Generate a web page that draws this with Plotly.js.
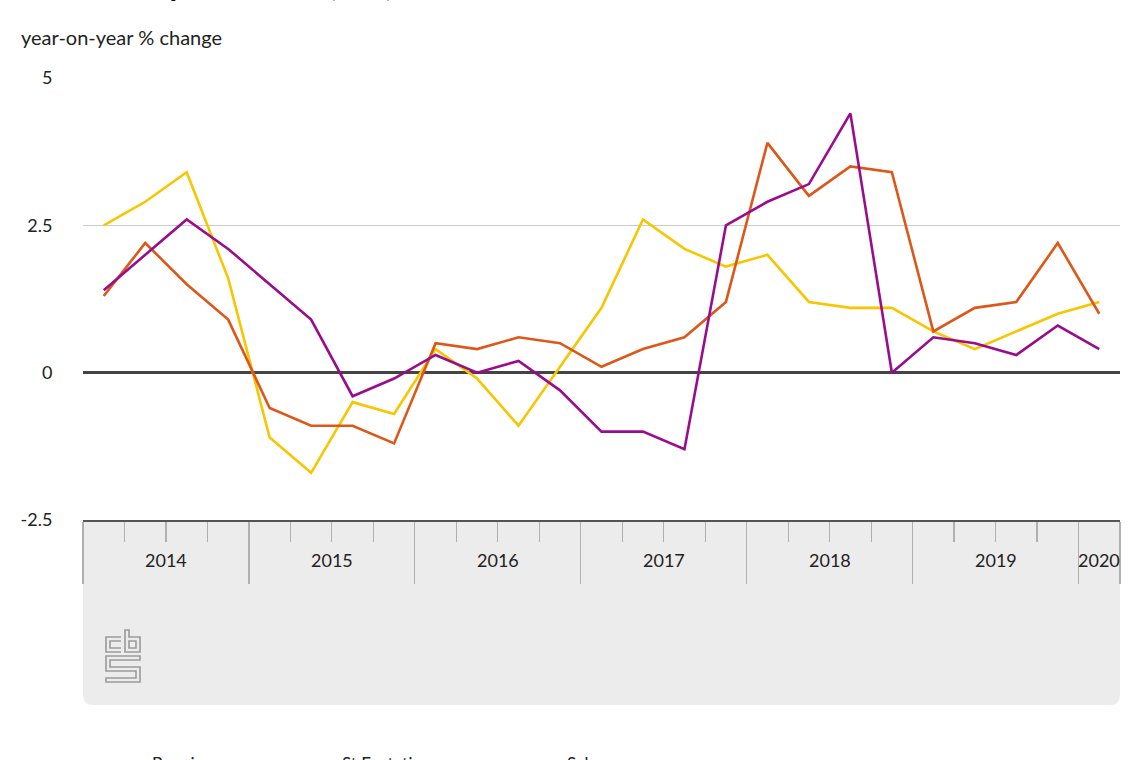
<!DOCTYPE html>
<html>
<head>
<meta charset="utf-8">
<script src="https://cdn.plot.ly/plotly-3.0.1.min.js"></script>
<style>html,body{margin:0;padding:0;background:#fff;}#chart{width:1140px;height:760px;}</style>
</head>
<body>
<div id="chart"></div>
<script>
// ---- data ----
const quarters = [
  '2014 Q1','2014 Q2','2014 Q3','2014 Q4',
  '2015 Q1','2015 Q2','2015 Q3','2015 Q4',
  '2016 Q1','2016 Q2','2016 Q3','2016 Q4',
  '2017 Q1','2017 Q2','2017 Q3','2017 Q4',
  '2018 Q1','2018 Q2','2018 Q3','2018 Q4',
  '2019 Q1','2019 Q2','2019 Q3','2019 Q4',
  '2020 Q1'
];
const bonaire = [2.5, 2.9, 3.4, 1.6, -1.1, -1.7, -0.5, -0.7, 0.4, -0.1, -0.9, 0.1, 1.1, 2.6, 2.1, 1.8, 2.0, 1.2, 1.1, 1.1, 0.7, 0.4, 0.7, 1.0, 1.2];
const stEustatius = [1.3, 2.2, 1.5, 0.9, -0.6, -0.9, -0.9, -1.2, 0.5, 0.4, 0.6, 0.5, 0.1, 0.4, 0.6, 1.2, 3.9, 3.0, 3.5, 3.4, 0.7, 1.1, 1.2, 2.2, 1.0];
const saba = [1.4, 2.0, 2.6, 2.1, 1.5, 0.9, -0.4, -0.1, 0.3, 0.0, 0.2, -0.3, -1.0, -1.0, -1.3, 2.5, 2.9, 3.2, 4.4, 0.0, 0.6, 0.5, 0.3, 0.8, 0.4];
const seriesNames = ['Bonaire', 'St Eustatius', 'Saba'];
const yTickValues = [-2.5, 0, 2.5, 5];
const yTickLabels = ['-2.5', '0', '2.5', '5'];
const titleText = 'Consumer price index (CPI) Caribbean Netherlands';
const yAxisLabel = 'year-on-year % change';

// ---- geometry (pixels) ----
const W = 1140, H = 760;
const M = {l: 83, r: 20, t: 78, b: 240};
const plotW = W - M.l - M.r, plotH = H - M.t - M.b;
const px2paperX = px => (px - M.l) / plotW;
const px2paperY = py => (H - M.b - py) / plotH;

const xIdx = quarters.map((q, i) => i);
const years = [...new Set(quarters.map(q => q.split(' ')[0]))];
const yearCenters = years.map(y => {
  const idx = xIdx.filter(i => quarters[i].startsWith(y));
  return (idx[0] + idx[idx.length - 1]) / 2;
});
const yearBounds = years.map(y => xIdx.find(i => quarters[i].startsWith(y)) - 0.5).concat([quarters.length - 0.5]);
const quarterBounds = xIdx.map(i => i - 0.5);

const colors = ['#f7c600', '#dd5718', '#990c8b'];
const seriesData = [bonaire, stEustatius, saba];
const legendIds = ['legend', 'legend2', 'legend3'];
const font = 'Lato, "Open Sans", sans-serif';

const traces = seriesData.map((d, k) => ({
  type: 'scatter', mode: 'lines', x: xIdx, y: d, name: seriesNames[k],
  text: quarters, hovertemplate: '%{text}: %{y}<extra>' + seriesNames[k] + '</extra>',
  line: {color: colors[k], width: 2.6},
  legend: legendIds[k]
}));

const boxBottom = px2paperY(705);
const rX = 10 / plotW, rY = 10 / plotH;
const boxPath = `M0,0 L1,0 L1,${boxBottom + rY} Q1,${boxBottom} ${1 - rX},${boxBottom} L${rX},${boxBottom} Q0,${boxBottom} 0,${boxBottom + rY} Z`;

const logoSvg = `<svg xmlns="http://www.w3.org/2000/svg" width="36" height="54" viewBox="0 0 36 54">
<g fill="none" stroke="#9a9a9a" stroke-width="1.6">
<path d="M16,8 H1 V23 H16 M16,12 H5 V19 H16"/>
<path d="M20,1 V23 H35 V8 H24 V1 Z M24,12 H31 V19 H24 Z"/>
<path d="M35,27 H1 V42 H31 V49 H1 V53 H35 V38 H5 V31 H35 Z"/>
</g></svg>`;
const logoUri = 'data:image/svg+xml;base64,' + btoa(logoSvg);

const annotations = years.map((y, i) => ({
  text: y, x: yearCenters[i], xref: 'x', y: px2paperY(560), yref: 'paper',
  xanchor: 'center', yanchor: 'middle', showarrow: false,
  font: {family: font, size: 18, color: '#222'}
}));
annotations.push({
  text: yAxisLabel, x: px2paperX(19), xref: 'paper', y: px2paperY(37), yref: 'paper',
  xanchor: 'left', yanchor: 'middle', showarrow: false,
  font: {family: font, size: 20, color: '#222'}
});
annotations.push({
  text: '<b>' + titleText + '</b>', x: px2paperX(20), xref: 'paper', y: px2paperY(-16), yref: 'paper',
  xanchor: 'left', yanchor: 'middle', showarrow: false,
  font: {family: font, size: 31, color: '#111'}
});

const legendBase = {
  orientation: 'h', yref: 'paper', y: px2paperY(764), yanchor: 'middle', xanchor: 'left',
  bgcolor: 'rgba(0,0,0,0)', itemwidth: 60, font: {family: font, size: 17, color: '#222'}
};
const legendStarts = [82, 272, 497];

const layout = {
  width: W, height: H,
  margin: {l: M.l, r: M.r, t: M.t, b: M.b, autoexpand: false},
  paper_bgcolor: '#fff', plot_bgcolor: '#fff',
  font: {family: font, size: 18, color: '#222'},
  showlegend: true,
  legend: Object.assign({}, legendBase, {x: px2paperX(legendStarts[0])}),
  legend2: Object.assign({}, legendBase, {x: px2paperX(legendStarts[1])}),
  legend3: Object.assign({}, legendBase, {x: px2paperX(legendStarts[2])}),
  xaxis: {
    range: [-0.5, quarters.length - 0.5], showgrid: false, zeroline: false,
    showline: true, linecolor: '#555', linewidth: 1.5,
    tickmode: 'array', tickvals: yearBounds, ticks: 'outside', ticklen: 62, tickwidth: 1.2, tickcolor: '#b0b0b0',
    showticklabels: false,
    minor: {tickmode: 'array', tickvals: quarterBounds, ticks: 'outside', ticklen: 20, tickwidth: 1.2, tickcolor: '#b0b0b0', showgrid: false},
    fixedrange: true
  },
  yaxis: {
    range: [-2.5, 5], tickmode: 'array', tickvals: yTickValues, ticktext: yTickLabels,
    showgrid: true, gridcolor: '#cccccc', gridwidth: 1,
    zeroline: true, zerolinecolor: '#444', zerolinewidth: 3,
    showline: false, ticks: 'outside', ticklen: 26, tickcolor: 'rgba(0,0,0,0)',
    tickfont: {family: font, size: 18, color: '#222'}, fixedrange: true
  },
  shapes: [{type: 'path', xref: 'paper', yref: 'paper', path: boxPath, fillcolor: '#ececec', line: {width: 0}, layer: 'below'}],
  images: [{source: logoUri, xref: 'paper', yref: 'paper', x: px2paperX(105), y: px2paperY(629), sizex: 36 / plotW, sizey: 54 / plotH, xanchor: 'left', yanchor: 'top', sizing: 'stretch', layer: 'above'}],
  annotations: annotations
};

Plotly.newPlot('chart', traces, layout, {displayModeBar: false, staticPlot: true});
</script>
</body>
</html>
